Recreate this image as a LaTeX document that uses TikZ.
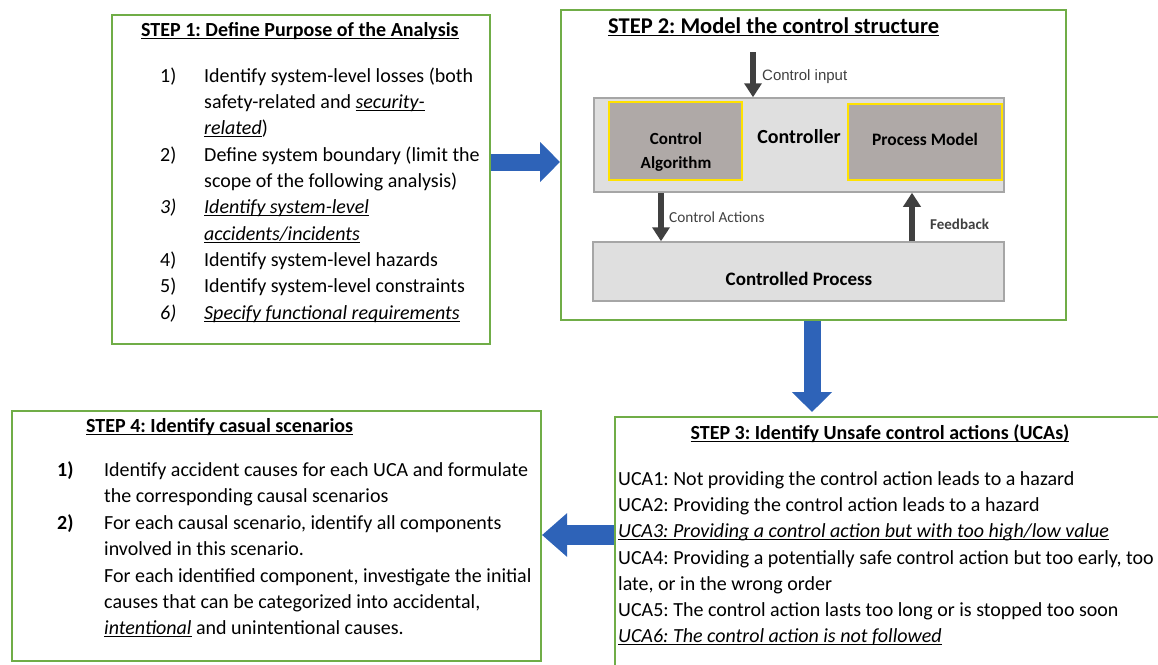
\documentclass[tikz,border=0pt]{standalone}
\usepackage{fontspec}
\setmainfont{Carlito}
\newfontfamily\arialfont{Liberation Sans}
\usepackage{xcolor}
\usetikzlibrary{arrows.meta,calc}
\frenchspacing

\definecolor{stepgreen}{RGB}{112,173,71}
\definecolor{arrowblue}{RGB}{46,99,184}
\definecolor{darkgrey}{RGB}{64,64,64}
\definecolor{ctrlgrey}{RGB}{223,223,223}
\definecolor{ctrlborder}{RGB}{166,166,166}
\definecolor{blockgrey}{RGB}{175,169,167}
\definecolor{blockyellow}{RGB}{255,226,0}

\newcommand{\bodysize}{\fontsize{20}{26}\selectfont}
\newcommand{\titlesize}{\bfseries\fontsize{20}{24}\selectfont}
% underline at a fixed depth below the baseline
\newcommand{\uln}[1]{\setbox0\hbox{#1}\rlap{\rule[-2.6pt]{\wd0}{1.1pt}}\box0\relax}

\tikzset{
  stepbox/.style={draw=stepgreen, line width=2pt, inner sep=0pt},
  txt/.style={anchor=base west, inner sep=0pt, font=\bodysize},
  steptitle/.style={anchor=base west, inner sep=0pt, font=\titlesize},
  ctrlbox/.style={draw=ctrlborder, fill=ctrlgrey, line width=1.5pt, inner sep=0pt},
  blockbox/.style={draw=blockyellow, fill=blockgrey, line width=1.5pt, inner sep=0pt},
  lbl/.style={anchor=base west, inner sep=0pt, text=darkgrey},
  garrow/.style={draw=darkgrey, line width=6pt, -{Triangle[width=17pt,length=14pt]}},
  barrow/.style={draw=arrowblue, line width=17pt, -{Triangle[width=39pt,length=20pt]}}
}

\begin{document}
\begin{tikzpicture}[x=1pt,y=-1pt]
\useasboundingbox (0,0) rectangle (1158,664);
\clip (0,0) rectangle (1158,664);

% step 1
\node[stepbox, minimum width=378pt, minimum height=329pt] (step1) at (301,179.5) {};
\node[steptitle] (t1) at (141,36) {\uln{STEP 1: Define Purpose of the Analysis}};
\node[txt] (n11) at (160,82) {1)};
\node[txt] (n12) at (160,161) {2)};
\node[txt] (n13) at (160,213) {\textit{3)}};
\node[txt] (n14) at (160,266) {4)};
\node[txt] (n15) at (160,292) {5)};
\node[txt] (n16) at (160,319) {\textit{6)}};
\node[txt] (s1a) at (204,82) {Identify system-level losses (both};
\node[txt] (s1b) at (204,108) {safety-related and \uln{\textit{security-}}};
\node[txt] (s1c) at (204,134) {\uln{\textit{related}})};
\node[txt] (s1d) at (204,161) {Define system boundary (limit the};
\node[txt] (s1e) at (204,187) {scope of the following analysis)};
\node[txt] (s1f) at (204,213) {\uln{\textit{Identify system-level}}};
\node[txt] (s1g) at (204,240) {\uln{\textit{accidents/incidents}}};
\node[txt] (s1h) at (204,266) {Identify system-level hazards};
\node[txt] (s1i) at (204,292) {Identify system-level constraints};
\node[txt] (s1j) at (204,319) {\uln{\textit{Specify functional requirements}}};

% step 2
\node[stepbox, minimum width=505pt, minimum height=310pt] (step2) at (813.5,165) {};
\node[steptitle, font=\bfseries\fontsize{22.5}{26}\selectfont] (t2) at (608,33) {\uln{STEP 2: Model the control structure}};
\node[ctrlbox, minimum width=410pt, minimum height=94pt] (ctrl) at (799,145) {};
\node[blockbox, minimum width=133pt, minimum height=78pt] (alg) at (675.5,141) {};
\node[blockbox, minimum width=154pt, minimum height=76pt] (pmodel) at (925,142) {};
\node[ctrlbox, minimum width=411pt, minimum height=59pt] (proc) at (798.5,271.5) {};
\node[anchor=base, inner sep=0pt, font=\bfseries\fontsize{20}{24}\selectfont] (ctrltxt) at (799,143.5) {Controller};
\node[anchor=base, inner sep=0pt, font=\bfseries\fontsize{17}{20}\selectfont] (algtxt) at (676,144) {Control};
\node[anchor=base, inner sep=0pt, font=\bfseries\fontsize{17}{20}\selectfont] (algtxtb) at (676,168) {Algorithm};
\node[anchor=base, inner sep=0pt, font=\bfseries\fontsize{17.5}{20}\selectfont] (pmtxt) at (925,145) {Process Model};
\node[anchor=base, inner sep=0pt, font=\bfseries\fontsize{19}{22}\selectfont] (proctxt) at (799,285) {Controlled Process};

\coordinate (cin) at (753,52);
\coordinate (cax) at (661,0);
\coordinate (fbx) at (912,0);
\draw[garrow] (cin) -- (cin |- ctrl.north);
\draw[garrow] (cax |- ctrl.south) -- (cax |- proc.north);
\draw[garrow] (fbx |- proc.north) -- (fbx |- ctrl.south);
\node[lbl, font=\arialfont\fontsize{15}{18}\selectfont] (cinlbl) at (762,80) {Control input};
\node[lbl, font=\fontsize{15.3}{18}\selectfont] (calbl) at (669,222) {Control Actions};
\node[lbl, font=\bfseries\fontsize{15}{18}\selectfont] (fblbl) at (930,229) {Feedback};

% step 3
\node[stepbox, minimum width=600pt, minimum height=300pt] (step3) at (915,567) {};
\node[steptitle, anchor=base] (t3) at (880,439) {\uln{STEP 3: Identify Unsafe control actions (UCAs)}};
\node[txt] (u1) at (618,485) {UCA1: Not providing the control action leads to a hazard};
\node[txt] (u2) at (618,511) {UCA2: Providing the control action leads to a hazard};
\node[txt] (u3) at (618,537) {\uln{\textit{UCA3: Providing a control action but with too high/low value}}};
\node[txt] (u4) at (618,564) {UCA4: Providing a potentially safe control action but too early, too};
\node[txt] (u4b) at (618,590) {late, or in the wrong order};
\node[txt] (u5) at (618,616) {UCA5: The control action lasts too long or is stopped too soon};
\node[txt] (u6) at (618,642) {\uln{\textit{UCA6: The control action is not followed}}};

% step 4
\node[stepbox, minimum width=529pt, minimum height=250pt] (step4) at (276.5,536) {};
\node[steptitle] (t4) at (86,432) {\uln{STEP 4: Identify casual scenarios}};
\node[txt, font=\bfseries\bodysize] (n41) at (57,476) {1)};
\node[txt, font=\bfseries\bodysize] (n42) at (57,529) {2)};
\node[txt] (s4a) at (104,476) {Identify accident causes for each UCA and formulate};
\node[txt] (s4b) at (104,502) {the corresponding causal scenarios};
\node[txt] (s4c) at (104,529) {For each causal scenario, identify all components};
\node[txt] (s4d) at (104,555) {involved in this scenario.};
\node[txt] (s4e) at (104,582) {For each identified component, investigate the initial};
\node[txt] (s4f) at (104,608) {causes that can be categorized into accidental,};
\node[txt] (s4g) at (104,634) {\uln{\textit{intentional}} and unintentional causes.};

% block arrows between the steps
\coordinate (a1y) at (0,162);
\coordinate (a2x) at (812,0);
\coordinate (a3y) at (0,535);
\draw[barrow] (step1.east |- a1y) -- (step2.west |- a1y);
\draw[barrow, shorten >=4pt] (a2x |- step2.south) -- (a2x |- step3.north);
\draw[barrow, line width=20pt, -{Triangle[width=42pt,length=25pt]}] (step3.west |- a3y) -- (step4.east |- a3y);
\end{tikzpicture}
\end{document}
